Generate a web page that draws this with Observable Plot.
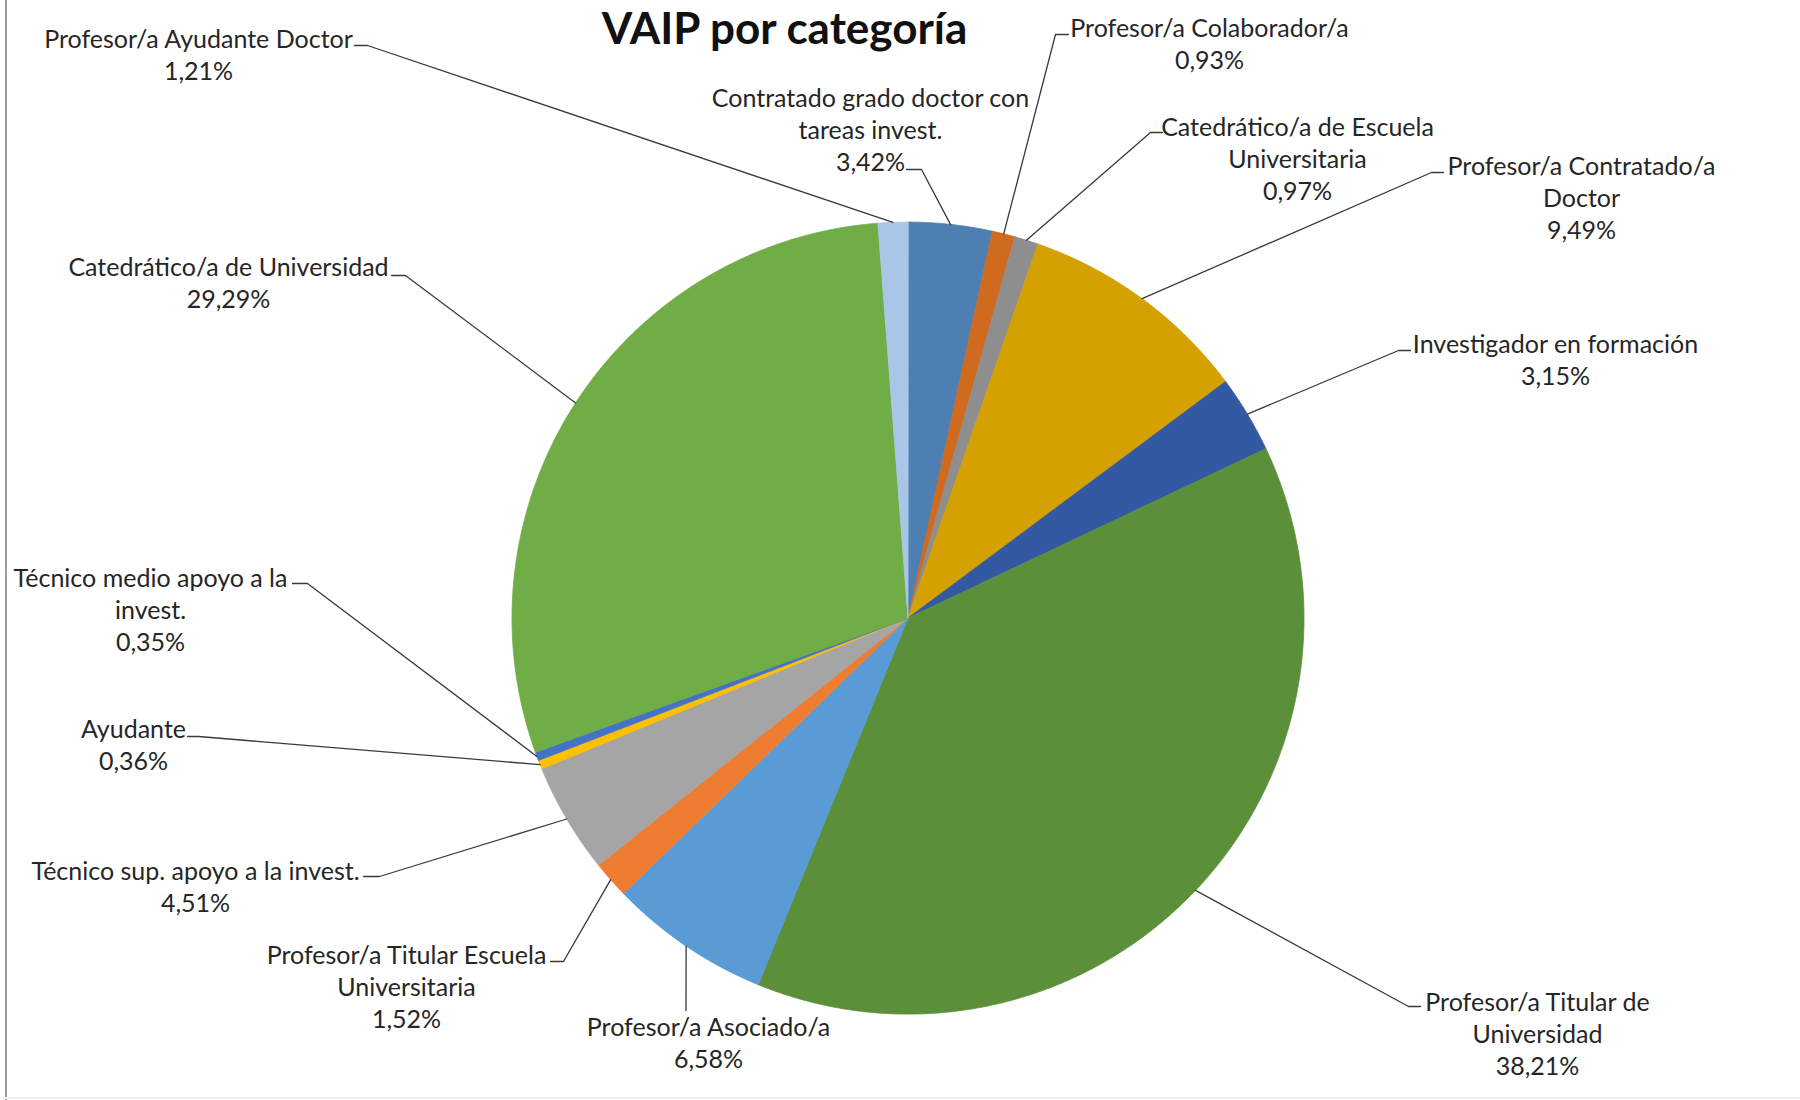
<!DOCTYPE html>
<html>
<head>
<meta charset="utf-8">
<script src="https://cdn.jsdelivr.net/npm/d3@7"></script>
<script src="https://cdn.jsdelivr.net/npm/@observablehq/plot@0.6"></script>
<style>
  html, body { margin: 0; padding: 0; background: #fff; }
  #wrap { position: relative; width: 1800px; height: 1100px; overflow: hidden; }
  #wrap::before { content: ""; position: absolute; left: 5px; top: 0; width: 2px; height: 1100px; background: #9a9a9a; z-index: 2; }
  #wrap::after { content: ""; position: absolute; left: 0; top: 1097px; width: 1800px; height: 2px; background: #f0f0f0; z-index: 2; }
</style>
</head>
<body>
<div id="wrap"></div>
<script>
// ---------- DATA ----------
const title = "VAIP por categoría";
const categories = [
  "Contratado grado doctor con tareas invest.",
  "Profesor/a Colaborador/a",
  "Catedrático/a de Escuela Universitaria",
  "Profesor/a Contratado/a Doctor",
  "Investigador en formación",
  "Profesor/a Titular de Universidad",
  "Profesor/a Asociado/a",
  "Profesor/a Titular Escuela Universitaria",
  "Técnico sup. apoyo a la invest.",
  "Ayudante",
  "Técnico medio apoyo a la invest.",
  "Catedrático/a de Universidad",
  "Profesor/a Ayudante Doctor"
];
const values = [3.42, 0.93, 0.97, 9.49, 3.15, 38.21, 6.58, 1.52, 4.51, 0.36, 0.35, 29.29, 1.21];
const colors = [
  "#4d7fb3", "#d06a1e", "#8e8e8e", "#d4a100", "#3459a3", "#5b8f3a",
  "#5b9bd5", "#ee7d31", "#a5a5a5", "#ffc000", "#4472c4", "#70ad47", "#a9c6e8"
];

// ---------- LAYOUT (pixels) ----------
const pie = {cx: 907.5, cy: 617.6, r: 396};
// wrapped label text, label block centre, leader bend point, leader end
const labelLayout = [
  {wrap: "Contratado grado doctor con\ntareas invest.", cx: 870, cy: 128.6, ax: 921, ay: 169, bx: 906},
  {wrap: "Profesor/a Colaborador/a", cx: 1209, cy: 42, ax: 1055, ay: 34, bx: 1068},
  {wrap: "Catedrático/a de Escuela\nUniversitaria", cx: 1297, cy: 157, ax: 1150, ay: 132, bx: 1162},
  {wrap: "Profesor/a Contratado/a\nDoctor", cx: 1581, cy: 196.5, ax: 1431, ay: 172, bx: 1443},
  {wrap: "Investigador en formación", cx: 1555, cy: 358, ax: 1398, ay: 350, bx: 1410},
  {wrap: "Profesor/a Titular de\nUniversidad", cx: 1537, cy: 1032, ax: 1408, ay: 1006, bx: 1420},
  {wrap: "Profesor/a Asociado/a", cx: 708, cy: 1041, ax: 685.5, ay: 1010, bx: 685.5},
  {wrap: "Profesor/a Titular Escuela\nUniversitaria", cx: 406, cy: 985, ax: 563, ay: 961, bx: 550},
  {wrap: "Técnico sup. apoyo a la invest.", cx: 195, cy: 885, ax: 379, ay: 876, bx: 363},
  {wrap: "Ayudante", cx: 133, cy: 743, ax: 198, ay: 736, bx: 187},
  {wrap: "Técnico medio apoyo a la\ninvest.", cx: 150, cy: 608, ax: 307, ay: 583, bx: 292},
  {wrap: "Catedrático/a de Universidad", cx: 228, cy: 281, ax: 405, ay: 275, bx: 391},
  {wrap: "Profesor/a Ayudante Doctor", cx: 198, cy: 53, ax: 367, ay: 45, bx: 354}
];
const FONT = "Lato, 'Open Sans', sans-serif";
const labelSize = 25;

// ---------- BUILD ----------
const arcs = d3.pie().sort(null).value((d) => d)(values);
const pt = (a, rr) => ({x: pie.cx + rr * Math.sin(a), y: pie.cy - rr * Math.cos(a)});

const wedgePts = [];
arcs.forEach((a, i) => {
  const name = categories[i];
  wedgePts.push({name, ...pt(0, 0)});
  const steps = Math.max(2, Math.ceil((a.endAngle - a.startAngle) / (Math.PI / 720)));
  for (let k = 0; k <= steps; k++) {
    const ang = a.startAngle + (a.endAngle - a.startAngle) * k / steps;
    wedgePts.push({name, ...pt(ang, pie.r)});
  }
});

const leaderPts = [];
arcs.forEach((a, i) => {
  const L = labelLayout[i];
  const mid = (a.startAngle + a.endAngle) / 2;
  const e = pt(mid, pie.r);
  leaderPts.push({name: categories[i], x: e.x, y: e.y});
  leaderPts.push({name: categories[i], x: L.ax, y: L.ay});
  leaderPts.push({name: categories[i], x: L.bx, y: L.ay});
});

const fmt = (v) => v.toFixed(2).replace(".", ",") + "%";
const labels = categories.map((c, i) => ({
  name: c,
  text: labelLayout[i].wrap + "\n" + fmt(values[i]),
  x: labelLayout[i].cx,
  y: labelLayout[i].cy
}));

const chart = Plot.plot({
  width: 1800,
  height: 1100,
  margin: 0,
  x: {domain: [0, 1800], range: [0, 1800], axis: null},
  y: {domain: [0, 1100], range: [0, 1100], axis: null},
  color: {domain: categories, range: colors},
  style: {fontFamily: FONT, background: "white", overflow: "visible"},
  marks: [
    Plot.line(wedgePts, {x: "x", y: "y", z: "name", fill: "name", stroke: "name", strokeWidth: 0.8, curve: "linear-closed"}),
    Plot.line(leaderPts, {x: "x", y: "y", z: "name", stroke: "#3a3a3a", strokeWidth: 1.3}),
    Plot.text(labels, {x: "x", y: "y", text: "text", fontSize: labelSize, lineHeight: 32 / labelSize, fill: "#262626", textAnchor: "middle", lineAnchor: "middle"}),
    Plot.text([title], {frameAnchor: "top", dx: -116, dy: 29, lineAnchor: "middle", fontSize: 44, fontWeight: "bold", fill: "#111"})
  ]
});
document.getElementById("wrap").appendChild(chart);
</script>
</body>
</html>
